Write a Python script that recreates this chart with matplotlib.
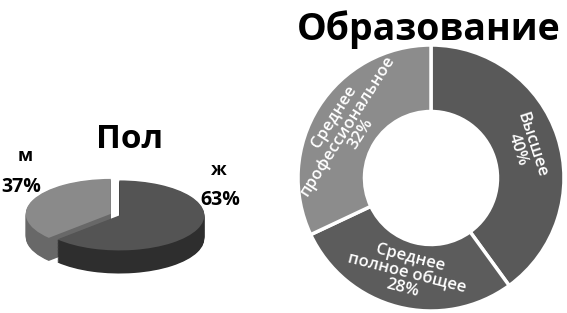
import numpy as np
import matplotlib.pyplot as plt

plt.rcParams['font.family'] = ['Open Sans', 'DejaVu Sans']

# Пол
sex_labels = ['ж', 'м']
sex_values = [63, 37]
# Образование
edu_labels = ['Высшее', 'Среднее\nполное общее', 'Среднее\nпрофессиональное']
edu_values = [40, 28, 32]

W, H = 567, 313
fig = plt.figure(figsize=(W / 100, H / 100), dpi=100)

# --- 3D pie (Пол), drawn as stacked squashed pies ---
cx, cy, rx, ry = 117, 215, 85, 35
ax_p = fig.add_axes([0, 0, 1, 1])
depth = 0.66
n_layers = 30
top_cols = ['#545454', '#8a8a8a']
side_cols = ['#2e2e2e', '#686868']
explode = [0.03, 0.08]
for k in range(n_layers, 0, -1):
    off = -depth * k / n_layers
    ax_p.pie(sex_values, colors=side_cols, startangle=90, counterclock=False,
             explode=explode, center=(0, off), radius=1,
             wedgeprops=dict(linewidth=0))
ax_p.pie(sex_values, colors=top_cols, startangle=90, counterclock=False,
         explode=explode, center=(0, 0), radius=1,
         wedgeprops=dict(linewidth=0))
ax_p.set_aspect('auto')
ax_p.set_xlim(-cx / rx, (W - cx) / rx)
ax_p.set_ylim((cy - H) / ry, cy / ry)
ax_p.axis('off')

# --- donut (Образование) ---
dx, dy, R = 431, 178, 133
ax_d = fig.add_axes([0, 0, 1, 1])
edu_cols = ['#595959', '#5c5c5c', '#8c8c8c']
edu_text = [f'{l}\n{v}%' for l, v in zip(edu_labels, edu_values)]
wedges, texts = ax_d.pie(edu_values, labels=edu_text, colors=edu_cols,
                         startangle=90, counterclock=False, radius=R,
                         center=(dx, H - dy), labeldistance=0.74,
                         wedgeprops=dict(width=R * 0.5, edgecolor='white', linewidth=2.5),
                         textprops=dict(color='white', fontsize=12, fontweight='semibold',
                                        ha='center', va='center', linespacing=0.95))
cum = np.cumsum([0] + edu_values)
for i, t in enumerate(texts):
    theta = (cum[i] + edu_values[i] / 2) / sum(edu_values) * 360
    rot = -theta
    while rot < -90:
        rot += 180
    t.set_rotation(rot)
    t.set_rotation_mode('anchor')
    t.set_ha('center')
    t.set_va('center')
ax_d.set_aspect('auto')
ax_d.set_xlim(0, W)
ax_d.set_ylim(0, H)
ax_d.axis('off')

# --- titles and labels ---
ax = fig.add_axes([0, 0, 1, 1])
ax.set_xlim(0, W)
ax.set_ylim(H, 0)
ax.axis('off')
ax.text(130, 140, 'Пол', fontsize=24, fontweight='bold', ha='center', va='center')
ax.text(429, 30, 'Образование', fontsize=27, fontweight='bold', ha='center', va='center')
ax.text(25, 156, sex_labels[1], fontsize=13, fontweight='bold', ha='center', va='center')
ax.text(21, 187, f'{sex_values[1]}%', fontsize=14, fontweight='bold', ha='center', va='center')
ax.text(219, 170, sex_labels[0], fontsize=13, fontweight='bold', ha='center', va='center')
ax.text(220, 200, f'{sex_values[0]}%', fontsize=14, fontweight='bold', ha='center', va='center')

fig.savefig('out.png', dpi=100, facecolor='white')
